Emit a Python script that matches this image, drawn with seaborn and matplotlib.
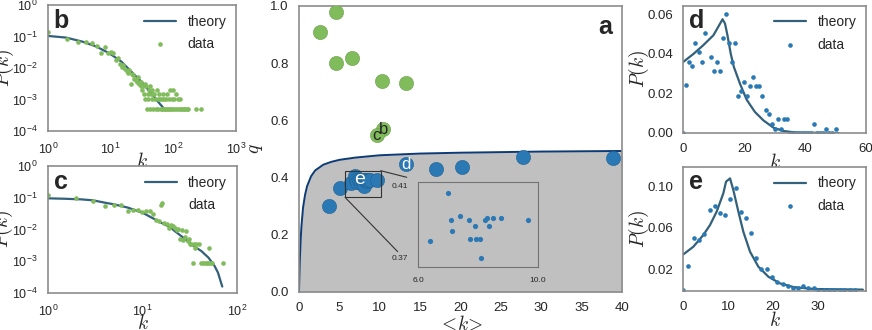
import matplotlib
matplotlib.use("Agg")
import matplotlib.pyplot as plt
import seaborn as sns

sns.set_theme(style="white")
plt.rcParams["font.family"] = ["Liberation Sans", "DejaVu Sans"]
plt.rcParams["mathtext.fontset"] = "cm"
plt.rcParams["axes.edgecolor"] = "0.55"
plt.rcParams["axes.linewidth"] = 1.2
plt.rcParams["xtick.labelsize"] = 9.5
plt.rcParams["ytick.labelsize"] = 9.5
plt.rcParams["xtick.major.pad"] = 1.5
plt.rcParams["ytick.major.pad"] = 1.5

GREEN = "#80bb5c"
BLUE = "#2a78b4"
THEORY = "#33607a"
NAVY = "#0d3b78"
SHADE = "#c0c0c0"

# ---- panel a: q versus <k> ----
green_k = [2.64, 4.63, 4.63, 6.61, 10.3, 13.2, 10.4, 9.6]
green_q = [0.908, 0.978, 0.800, 0.819, 0.739, 0.730, 0.569, 0.549]
blue_k = [3.68, 5.08, 13.3, 17.0, 20.2, 27.7, 38.9,
          6.39, 6.99, 7.10, 7.13, 7.41, 7.70, 7.72, 7.90, 7.92, 8.08, 8.09,
          8.23, 8.29, 8.38, 8.51, 8.75, 9.65]
blue_q = [0.301, 0.362, 0.446, 0.431, 0.436, 0.473, 0.470,
          0.3794, 0.4054, 0.3907, 0.3845, 0.3928, 0.3907, 0.3803, 0.3876, 0.3803,
          0.3803, 0.3698, 0.3907, 0.3917, 0.3876, 0.3917, 0.3917, 0.3907]
bound_k = [0.0, 0.05, 0.1, 0.2, 0.3, 0.5, 0.75, 1.0, 1.5, 2.0, 3.0, 4.0, 5.0,
           7.0, 10.0, 15.0, 20.0, 30.0, 40.0]
bound_q = [0.0, 0.06, 0.11, 0.18, 0.23, 0.295, 0.34, 0.37, 0.405, 0.425, 0.445,
           0.455, 0.462, 0.47, 0.478, 0.484, 0.487, 0.491, 0.493]

# ---- panel b ----
b_k = [1, 2, 3, 4, 5, 6, 7, 8, 9, 10, 11, 12, 13, 14, 15, 16, 17, 18, 19, 20,
       21, 22, 23, 24, 25, 26, 27, 28, 29, 30, 31, 32, 33, 34, 35, 37, 39, 41, 43,
       45, 47, 36, 38, 40, 42, 44, 46, 48, 50, 52, 53, 55, 56, 58, 60, 62, 63,
       65, 67, 68, 70, 72, 74, 76, 78, 80, 82, 85, 88, 90, 93, 95, 98, 100,
       104, 108, 112, 115, 120, 125, 126, 132, 140, 148, 155, 163, 171, 233, 279]
b_p = [0.136, 0.083, 0.065, 0.068, 0.061, 0.050, 0.029, 0.045, 0.030, 0.031,
       0.029, 0.018, 0.020, 0.013, 0.011, 0.0125, 0.0092, 0.0082, 0.0071, 0.0087,
       0.0031, 0.0066, 0.0061, 0.0046, 0.0041, 0.0036, 0.0051, 0.0031, 0.0036,
       0.0026, 0.0036, 0.0020, 0.0026, 0.0015, 0.0031, 0.0026, 0.0015, 0.0020,
       0.0026, 0.0020, 0.0015, 0.00102, 0.00051, 0.00102, 0.00051, 0.00153,
       0.00102, 0.00051, 0.00153, 0.00102, 0.00051, 0.00204, 0.00102, 0.00051,
       0.00153, 0.00102, 0.00051, 0.00102, 0.00051, 0.00153, 0.00051, 0.00102,
       0.00051, 0.00102, 0.00051, 0.00153, 0.00051, 0.00102, 0.00051, 0.00204,
       0.00051, 0.00102, 0.00204, 0.00051, 0.00102, 0.00051, 0.00153, 0.00051,
       0.00102, 0.00051, 0.00102, 0.00051, 0.00051, 0.00051, 0.00051, 0.00051,
       0.00051, 0.00051, 0.00051]
b_theory_k = [1, 1.96, 3.6, 5.9, 9.6, 14.8, 22.7, 30.9, 37, 47, 57, 68]
b_theory_p = [0.104, 0.092, 0.068, 0.048, 0.029, 0.016, 0.0068, 0.0037, 0.0024,
              0.0014, 0.00085, 0.00057]

# ---- panel c ----
c_k = [1, 2, 3, 4, 5, 6, 7, 8, 9, 10, 11, 12, 13, 14, 15, 16, 17, 18, 19, 20,
       21, 22, 23, 24, 25, 26, 27, 28, 29, 30, 31, 32, 33, 34, 35, 36, 37, 40,
       42, 44, 46, 48, 50, 51, 52, 54, 72]
c_p = [0.125, 0.098, 0.080, 0.056, 0.060, 0.060, 0.037, 0.042, 0.041, 0.035,
       0.037, 0.039, 0.031, 0.0205, 0.0186, 0.068, 0.0164, 0.0145, 0.0114, 0.0135,
       0.0125, 0.0112, 0.0095, 0.0106, 0.0052, 0.0099, 0.0047, 0.0057, 0.0088,
       0.0044, 0.0050, 0.0036, 0.0036, 0.00088, 0.0036, 0.0027, 0.0034, 0.0036,
       0.00088, 0.00088, 0.00088, 0.00088, 0.00088, 0.0027, 0.00088, 0.00088,
       0.00088]
c_theory_k = [1, 1.5, 2.25, 3, 4, 5, 7, 10, 14.6, 20, 22, 30, 35, 42, 50, 58, 63,
              68, 70]
c_theory_p = [0.096, 0.093, 0.089, 0.083, 0.070, 0.062, 0.049, 0.034, 0.0185,
              0.0114, 0.0089, 0.0044, 0.0030, 0.0021, 0.0013, 0.00071, 0.00044,
              0.00021, 0.00016]

# ---- panel d ----
d_k = [0, 1, 2, 3, 4, 5, 6, 7, 9, 10, 11, 12, 13, 14, 15, 16, 17, 18, 19, 20,
       21, 22, 23, 24, 25, 26, 27, 28, 29, 30, 31, 32, 33, 34, 35, 36, 37, 38,
       39, 40, 41, 42, 43, 44, 45, 46, 47, 48, 49, 50]
d_p = [0.0, 0.0242, 0.036, 0.0338, 0.0458, 0.0411, 0.036, 0.0507, 0.0385,
       0.0314, 0.036, 0.0314, 0.0482, 0.0604, 0.0458, 0.036, 0.0458, 0.0189,
       0.0214, 0.026, 0.0189, 0.0239, 0.0285, 0.0239, 0.0239, 0.0189, 0.0117,
       0.0094, 0.0047, 0.0022, 0.0069, 0.0022, 0.0069, 0.0069, 0.0, 0.0, 0.0,
       0.0, 0.0, 0.0, 0.0, 0.0, 0.0047, 0.0, 0.0, 0.0, 0.0022, 0.0, 0.0, 0.0022]
d_theory_k = [0, 3.3, 6.6, 9.9, 12.9, 13.7, 14.5, 15.6, 16.6, 18.6, 20.8, 23.5,
              26.3, 29.6, 32.9, 37.2, 51]
d_theory_p = [0.036, 0.040, 0.0445, 0.0495, 0.0576, 0.0554, 0.0495, 0.040,
              0.0335, 0.025, 0.0169, 0.0107, 0.0064, 0.0027, 0.001, 0.0002, 0.0]

# ---- panel e ----
e_k = [0, 1.12, 2.38, 3.49, 4.68, 5.87, 6.99, 8.18, 9.29, 10.41, 11.67, 12.86,
       13.90, 15.09, 16.28, 17.40, 18.66, 19.85, 20.97, 22.16, 23.27, 24.39,
       25.58, 26.77, 27.88, 29.07, 30.11, 31.30, 32.49, 33.61, 34.80, 35.91,
       37.17, 38.29]
e_p = [0.0, 0.0229, 0.0504, 0.0484, 0.0539, 0.0773, 0.0815, 0.074, 0.0725,
       0.0883, 0.099, 0.075, 0.070, 0.055, 0.0303, 0.0196, 0.0196, 0.0122,
       0.0076, 0.0057, 0.0038, 0.0012, 0.0019, 0.0035, 0.0012, 0.0012, 0.0,
       0.0, 0.0, 0.0, 0.0, 0.0, 0.0, 0.0]
e_theory_k = [0, 2.23, 4.46, 5.95, 7.43, 8.92, 9.52, 10.41, 11.15, 12.27, 13.38,
              14.87, 16.73, 18.96, 21.56, 24.54, 29.0, 40.0]
e_theory_p = [0.0342, 0.0416, 0.053, 0.0627, 0.0757, 0.0935, 0.1048, 0.108,
              0.0967, 0.0757, 0.0562, 0.0368, 0.0222, 0.0125, 0.006, 0.0025,
              0.0006, 0.0]


def dist_panel(ax, tk, tp, k, p, color, letter, log=False):
    if log:
        ax.set_xscale("log")
        ax.set_yscale("log")
        ax.tick_params(labelsize=9)
    sns.lineplot(x=tk, y=tp, ax=ax, color=THEORY, lw=1.6, label="theory",
                 sort=False, estimator=None)
    sns.scatterplot(x=k, y=p, ax=ax, color=color, s=11, linewidth=0,
                    label="data", zorder=3)
    ax.legend(loc="upper right", frameon=False, fontsize=10, handlelength=2.3,
              labelspacing=0.6, borderaxespad=0.3)
    ax.set_xlabel("$k$", fontsize=14, labelpad=-3 if log else -2)
    ax.set_ylabel("$P(k)$", fontsize=14)
    # y label sits right at the figure's left edge, as in the source figure
    ax.yaxis.set_label_coords(-0.172 if log else -0.178, 0.5)
    ax.text(0.03, 0.97, letter, transform=ax.transAxes, fontsize=18,
            fontweight="bold", ha="left", va="top")
    for sp in ax.spines.values():
        sp.set_zorder(5)


fig = plt.figure(figsize=(8.72, 3.3), dpi=100)

ax_b = fig.add_axes([0.055, 0.603, 0.2156, 0.382])
dist_panel(ax_b, b_theory_k, b_theory_p, b_k, b_p, GREEN, "b", log=True)
ax_b.set_xlim(1, 1000)
ax_b.set_ylim(1e-4, 1)

ax_c = fig.add_axes([0.055, 0.112, 0.2167, 0.385])
dist_panel(ax_c, c_theory_k, c_theory_p, c_k, c_p, GREEN, "c", log=True)
ax_c.set_xlim(1, 100)
ax_c.set_ylim(1e-4, 1)

ax_d = fig.add_axes([0.7836, 0.597, 0.2095, 0.386])
dist_panel(ax_d, d_theory_k, d_theory_p, d_k, d_p, BLUE, "d")
ax_d.set_xlim(0, 60)
ax_d.set_ylim(0, 0.0645)
ax_d.set_xticks([0, 20, 40, 60])
ax_d.set_yticks([0.0, 0.02, 0.04, 0.06])
ax_d.set_yticklabels(["0.00", "0.02", "0.04", "0.06"])

ax_e = fig.add_axes([0.7836, 0.118, 0.2095, 0.377])
dist_panel(ax_e, e_theory_k, e_theory_p, e_k, e_p, BLUE, "e")
ax_e.set_xlim(0, 40.7)
ax_e.set_ylim(-0.0014, 0.1194)
ax_e.set_xticks([0, 10, 20, 30])
ax_e.set_yticks([0.02, 0.06, 0.10])
ax_e.set_yticklabels(["0.02", "0.06", "0.10"])

# ---- main panel a ----
ax_a = fig.add_axes([0.3429, 0.1152, 0.3704, 0.8667])
ax_a.fill_between(bound_k, bound_q, 0, color=SHADE, lw=0, zorder=0)
sns.lineplot(x=bound_k, y=bound_q, ax=ax_a, color=NAVY, lw=1.4, sort=False,
             estimator=None)
sns.scatterplot(x=green_k, y=green_q, ax=ax_a, color=GREEN, s=105,
                edgecolor="#6a9f4b", linewidth=0.4, zorder=3)
sns.scatterplot(x=blue_k, y=blue_q, ax=ax_a, color=BLUE, s=105,
                edgecolor="#1f6194", linewidth=0.4, zorder=3)
ax_a.set_xlim(0, 40)
ax_a.set_ylim(0, 1)
ax_a.set_xticks(range(0, 41, 5))
ax_a.set_yticks([0.0, 0.2, 0.4, 0.6, 0.8, 1.0])
ax_a.set_xlabel("$<\\!k\\!>$", fontsize=14, labelpad=0)
ax_a.set_ylabel("$q$", fontsize=14)
ax_a.text(0.97, 0.97, "a", transform=ax_a.transAxes, fontsize=18,
          fontweight="bold", ha="right", va="top")
ax_a.text(10.45, 0.569, "b", fontsize=12, ha="center", va="center", zorder=4)
ax_a.text(9.55, 0.546, "c", fontsize=12, ha="center", va="center", zorder=4)
ax_a.text(13.3, 0.446, "d", fontsize=12, color="white", ha="center",
          va="center", zorder=4)
ax_a.text(7.45, 0.392, "e", fontsize=14, color="white", ha="center",
          va="center", zorder=4)
ax_a.add_patch(plt.Rectangle((5.7, 0.331), 4.4, 0.093, fill=False,
                             edgecolor="0.2", lw=0.8, zorder=4))
ax_a.plot([10.12, 13.34], [0.424, 0.401], color="0.2", lw=0.8, zorder=4)
ax_a.plot([5.70, 12.22], [0.331, 0.141], color="0.2", lw=0.8, zorder=4)

ax_in = fig.add_axes([0.4794, 0.1909, 0.1376, 0.2576])
ax_in.set_facecolor(SHADE)
sns.scatterplot(x=blue_k[7:], y=blue_q[7:], ax=ax_in, color=BLUE, s=14,
                linewidth=0)
ax_in.set_xlim(6, 10)
ax_in.set_ylim(0.3649, 0.4117)
ax_in.set_xticks([6, 10])
ax_in.set_xticklabels(["6.0", "10.0"])
ax_in.set_yticks([0.37, 0.41])
ax_in.set_yticklabels(["0.37", "0.41"])
ax_in.tick_params(labelsize=6, pad=1)
for sp in ax_in.spines.values():
    sp.set_edgecolor("0.45")
    sp.set_linewidth(0.8)

fig.savefig("out.png", dpi=100)
